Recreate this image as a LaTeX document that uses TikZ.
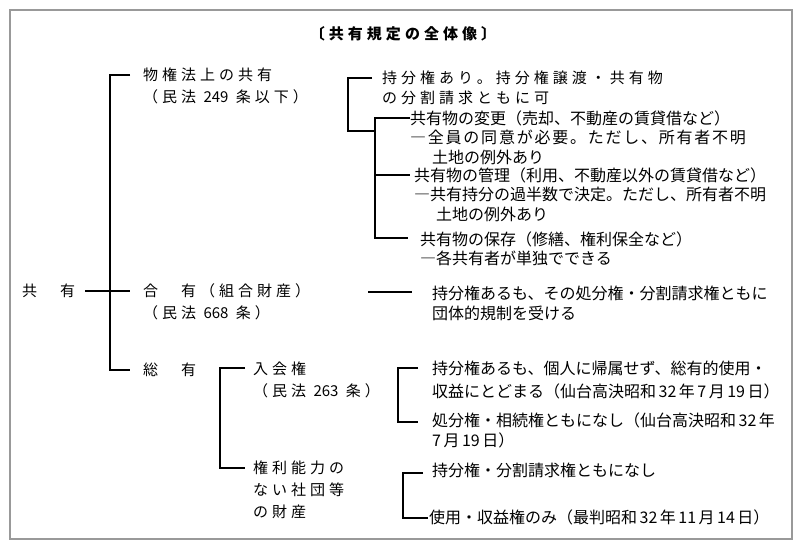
\documentclass[tikz,border=0pt]{standalone}
\usepackage{fontspec}
\setmainfont{Noto Sans CJK JP}
\newfontfamily\jpwide[LetterSpace=26.7]{Noto Sans CJK JP}
\newfontfamily\jpnorm{Noto Sans CJK JP}
\newfontfamily\jptitle[LetterSpace=27]{Noto Sans CJK JP}
\newcommand\nsp{\hspace{2.5pt}}
\newcommand\dg[1]{{\jpnorm #1}}
\begin{document}
\begin{tikzpicture}[x=1pt,y=-1pt,
  conn/.style={line width=1.5pt,line join=miter},
  widetxt/.style={font={\jpwide\fontsize{15}{22}\selectfont},inner sep=0pt,anchor=base west,align=left},
  normtxt/.style={font={\jpnorm\fontsize{16}{20}\selectfont},inner sep=0pt,anchor=base west,align=left},
  titletxt/.style={font={\jptitle\bfseries\fontsize{15}{18}\selectfont},inner sep=0pt}]
\useasboundingbox (0,0) rectangle (800,552);
\draw[black!40,line width=1.2pt] (10,10) rectangle (792,539);
% title
\node[titletxt] (title) at (403,34) {〔共有規定の全体像〕};
% left column (anchor: baseline of last line)
\node[widetxt] (root) at (22,296.7) {共　有};
\node[widetxt] (n1) at (143,102.7) {物権法上の共有\\（民法 \dg{249} 条以下）};
\node[widetxt] (n2) at (143,318.7) {合　有（組合財産）\\（民法 \dg{668} 条）};
\node[widetxt] (n3) at (143,375.7) {総　有};
\node[widetxt] (n4) at (253,396.7) {入会権\\（民法 \dg{263} 条）};
\node[widetxt] (n5) at (253,517.7) {権利能力の\\ない社団等\\の財産};
% right column
\node[widetxt,font={\jpwide\fontsize{15}{20}\selectfont}] (t1) at (382,103.7) {持分権あり。持分権譲渡・共有物\\の分割請求ともに可};
\node[normtxt,font={\jpnorm\fontsize{16}{19.5}\selectfont}] (t2) at (410,163.1) {共有物の変更（売却、不動産の賃貸借など）\\{\addfontfeature{LetterSpace=11}―全員の同意が必要。ただし、所有者不明}\\\hspace{22pt}土地の例外あり};
\node[normtxt,font={\jpnorm\fontsize{16}{19.5}\selectfont}] (t3) at (414,220.1) {共有物の管理（利用、不動産以外の賃貸借など）\\―共有持分の過半数で決定。ただし、所有者不明\\\hspace{22pt}土地の例外あり};
\node[normtxt,font={\jpnorm\fontsize{16}{19}\selectfont}] (t4) at (420,264.1) {共有物の保存（修繕、権利保全など）\\―各共有者が単独でできる};
\node[normtxt] (g1) at (432,319.1) {持分権あるも、その処分権・分割請求権ともに\\団体的規制を受ける};
\node[normtxt,font={\jpnorm\fontsize{16}{23}\selectfont}] (i1) at (432,397.1) {持分権あるも、個人に帰属せず、総有的使用・\\収益にとどまる（仙台高決昭和\nsp 32\nsp 年\nsp 7\nsp 月\nsp 19\nsp 日）};
\node[normtxt] (i2) at (432,446.1) {処分権・相続権ともになし（仙台高決昭和\nsp 32\nsp 年\\7\nsp 月\nsp 19\nsp 日）};
\node[normtxt] (s1) at (432,476.1) {持分権・分割請求権ともになし};
\node[normtxt] (s2) at (429,523.1) {使用・収益権のみ（最判昭和\nsp 32\nsp 年\nsp 11\nsp 月\nsp 14\nsp 日）};
% bracket coordinates
\coordinate (r0) at (85,291);
\coordinate (mt) at (110,75);
\coordinate (mb) at (110,370);
\coordinate (m1) at (130,75);
\coordinate (m2) at (130,291);
\coordinate (m3) at (130,370);
\coordinate (b2t) at (372,78);
\coordinate (b2v) at (348,78);
\coordinate (b2b) at (348,131);
\coordinate (b3t) at (375,118);
\coordinate (b3j) at (375,131);
\coordinate (b3b) at (375,238);
\coordinate (b3e1) at (410,118);
\coordinate (b3e2) at (410,175);
\coordinate (b3m) at (375,175);
\coordinate (b3e3) at (408,238);
\coordinate (g0) at (368,292);
\coordinate (g2) at (412,292);
\coordinate (sv1) at (220,368);
\coordinate (sv2) at (220,468);
\coordinate (se1) at (245,368);
\coordinate (se2) at (245,468);
\coordinate (iv1) at (398,368);
\coordinate (iv2) at (398,422);
\coordinate (ie1) at (418,368);
\coordinate (ie2) at (418,422);
\coordinate (kv1) at (403,473);
\coordinate (kv2) at (403,518);
\coordinate (ke1) at (423,473);
\coordinate (ke2) at (428,518);
% connectors
\draw[conn] (m1) -- (mt) -- (mb) -- (m3);
\draw[conn] (r0) -- (m2);
\draw[conn] (b2t) -- (b2v) -- (b2b) -- (b3j);
\draw[conn] (b3e1) -- (b3t) -- (b3b) -- (b3e3);
\draw[conn] (b3m) -- (b3e2);
\draw[conn] (g0) -- (g2);
\draw[conn] (se1) -- (sv1) -- (sv2) -- (se2);
\draw[conn] (ie1) -- (iv1) -- (iv2) -- (ie2);
\draw[conn] (ke1) -- (kv1) -- (kv2) -- (ke2);
\end{tikzpicture}
\end{document}
